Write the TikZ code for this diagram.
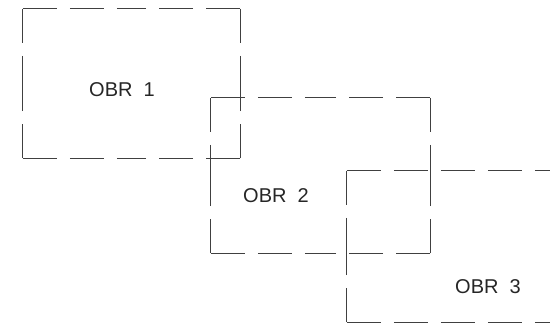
\documentclass[tikz,border=0pt]{standalone}
\usepackage{fontspec}
\setmainfont{Liberation Sans}
\usepackage{tikz}
\tikzset{
  obrBox/.style={shape=rectangle, draw=none, inner sep=0pt},
  obrSide/.style={draw=black!75, line width=0.9pt, dash pattern=on 34pt off 13pt},
  obrLabel/.style={shape=rectangle, draw=none, inner sep=0pt, font=\fontsize{20}{24}\selectfont, text=black!85}
}
\begin{document}
\begin{tikzpicture}[x=1pt,y=-1pt]
        \useasboundingbox (0,0) rectangle (550,329);
        \clip (0,0) rectangle (550,329);
        \node (r1) [obrBox, minimum width=217pt, minimum height=149pt] at (131.5,83.5) {};
        \node (r2) [obrBox, minimum width=219pt, minimum height=155pt] at (320.5,175.5) {};
        \node (r3) [obrBox, minimum width=254pt, minimum height=151pt] at (474,246.5) {};

        % sides are dashed from each corner towards the middle
        \foreach \r in {r1,r2}
          \foreach \a/\b in {north west/north, north east/north, north east/east, south east/east,
                             south east/south, south west/south, south west/west, north west/west}
            \draw[obrSide] (\r.\a) -- (\r.\b);
        % r3 runs off the right edge
        \foreach \a/\b in {north west/north east, south west/south east, south west/west, north west/west}
          \draw[obrSide] (r3.\a) -- (r3.\b);

        \node (t1) [obrLabel] at (122,89.5) {OBR\ \ 1};
        \node (t2) [obrLabel] at (276,196) {OBR\ \ 2};
        \node (t3) [obrLabel] at (488,286.5) {OBR\ \ 3};
\end{tikzpicture}
\end{document}
